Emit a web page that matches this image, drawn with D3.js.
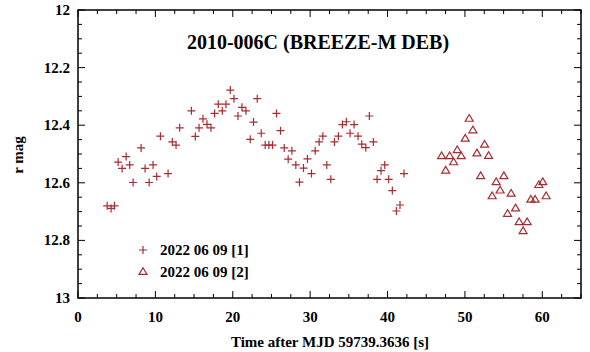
<!DOCTYPE html>
<html>
<head>
<meta charset="UTF-8"/>
<style>
  body { margin: 0; background: #fff; }
  text { font-family: "Liberation Serif", "DejaVu Serif", serif; font-weight: bold; }
</style>
</head>
<body>
<svg width="590" height="352"></svg>
<script src="https://d3js.org/d3.v7.min.js"></script>
<script>
// series 1 (crosses): time [s], r mag
let t1 = [3.77, 4.28, 4.71, 5.19, 5.70, 6.22, 6.68, 7.12, 8.15, 8.67, 9.19, 9.70, 10.17, 10.65,
          11.64, 12.19, 12.67, 13.14, 14.65, 15.16, 15.64, 16.15, 16.67, 17.19, 17.65, 18.13,
          18.65, 19.12, 19.68, 20.15, 20.67, 21.19, 21.70, 22.26, 22.68, 23.16, 23.68, 24.19,
          24.67, 25.14, 25.65, 26.17, 26.65, 27.16, 27.64, 28.15, 28.62, 29.14, 29.65, 30.17,
          30.65, 31.16, 31.64, 32.15, 32.67, 33.14, 33.65, 34.17, 34.68, 35.16, 35.68, 36.19,
          36.67, 37.19, 37.65, 38.17, 38.65, 39.16, 39.64, 40.15, 40.62, 41.14, 41.61, 42.13];
let m1 = [12.680, 12.689, 12.680, 12.528, 12.550, 12.509, 12.538, 12.599, 12.479, 12.550, 12.599,
          12.538, 12.578, 12.438, 12.568, 12.458, 12.469, 12.409, 12.350, 12.439, 12.409, 12.378,
          12.397, 12.409, 12.359, 12.327, 12.350, 12.327, 12.278, 12.308, 12.368, 12.338, 12.350,
          12.449, 12.389, 12.308, 12.428, 12.469, 12.469, 12.469, 12.359, 12.419, 12.479, 12.518,
          12.489, 12.538, 12.598, 12.549, 12.517, 12.568, 12.489, 12.458, 12.438, 12.538, 12.588,
          12.458, 12.438, 12.398, 12.388, 12.428, 12.398, 12.438, 12.466, 12.478, 12.368, 12.458,
          12.588, 12.558, 12.538, 12.588, 12.627, 12.698, 12.677, 12.568];
// series 2 (triangles)
let t2 = [46.99, 47.51, 48.03, 48.54, 49.01, 49.52, 50.04, 50.55, 51.03, 51.55, 52.03, 52.54,
          53.06, 53.52, 54.04, 54.55, 55.03, 55.51, 55.97, 56.54, 57.01, 57.52, 58.04, 58.52,
          59.07, 59.55, 60.06, 60.49];
let m2 = [12.508, 12.558, 12.508, 12.529, 12.487, 12.508, 12.447, 12.378, 12.418, 12.498, 12.577,
          12.468, 12.507, 12.647, 12.598, 12.627, 12.577, 12.708, 12.638, 12.689, 12.737, 12.768,
          12.737, 12.659, 12.659, 12.608, 12.598, 12.647];
let legendLabels = ["2022 06 09 [1]", "2022 06 09 [2]"];
let xTicks = [0, 10, 20, 30, 40, 50, 60];
let yTicks = [12, 12.2, 12.4, 12.6, 12.8, 13];

let svg = d3.select("svg");
let pLeft = 78, pRight = 581, pTop = 10, pBottom = 298;
let color = "#ab2a30";

let x = d3.scaleLinear().domain([0, 65]).range([pLeft, pRight]);
let y = d3.scaleLinear().domain([12, 13]).range([pTop, pBottom]);

// minor + major ticks, mirrored on all sides, pointing inward
let xMinor = d3.range(0, 65.01, 2.5);
let yMinor = d3.range(12, 13.001, 0.05);
let tk = svg.append("g").attr("stroke", "#000").attr("stroke-width", 1);
xMinor.forEach(function(v, i) {
    let len = i % 4 === 0 ? 7 : 4;
    tk.append("line").attr("x1", x(v)).attr("x2", x(v)).attr("y1", pBottom).attr("y2", pBottom - len);
    tk.append("line").attr("x1", x(v)).attr("x2", x(v)).attr("y1", pTop).attr("y2", pTop + len);
});
yMinor.forEach(function(v, i) {
    let len = i % 4 === 0 ? 7 : 4;
    tk.append("line").attr("x1", pLeft).attr("x2", pLeft + len).attr("y1", y(v)).attr("y2", y(v));
    tk.append("line").attr("x1", pRight).attr("x2", pRight - len).attr("y1", y(v)).attr("y2", y(v));
});

svg.append("rect").attr("x", pLeft).attr("y", pTop)
    .attr("width", pRight - pLeft).attr("height", pBottom - pTop)
    .attr("fill", "none").attr("stroke", "#000").attr("stroke-width", 1.5);

// tick labels
svg.append("g").selectAll("text").data(xTicks).enter().append("text")
    .attr("x", function(d) { return x(d); })
    .attr("y", 322)
    .attr("text-anchor", "middle")
    .attr("font-size", 15)
    .text(function(d) { return d; });
svg.append("g").selectAll("text").data(yTicks).enter().append("text")
    .attr("x", 70)
    .attr("y", function(d) { return y(d) + 5; })
    .attr("text-anchor", "end")
    .attr("font-size", 15)
    .text(function(d) { return d; });

// axis titles
svg.append("text").attr("x", 330).attr("y", 347).attr("text-anchor", "middle")
    .attr("font-size", 15).text("Time after MJD 59739.3636 [s]");
svg.append("text").attr("transform", "translate(23,155) rotate(-90)")
    .attr("text-anchor", "middle").attr("font-size", 15).text("r mag");
svg.append("text").attr("x", 318).attr("y", 49).attr("text-anchor", "middle")
    .attr("font-size", 20).text("2010-006C (BREEZE-M DEB)");

let crossPath = "M-4,0H4M0,-4V4";
let triPath = "M0,-4.3L4,2.4L-4,2.4Z";

let pts1 = d3.zip(t1, m1), pts2 = d3.zip(t2, m2);
svg.append("g").selectAll("path").data(pts1).enter().append("path")
    .attr("d", crossPath)
    .attr("transform", function(d) { return "translate(" + x(d[0]) + "," + y(d[1]) + ")"; })
    .attr("stroke", color).attr("stroke-width", 1.2).attr("fill", "none");
svg.append("g").selectAll("path").data(pts2).enter().append("path")
    .attr("d", triPath)
    .attr("transform", function(d) { return "translate(" + x(d[0]) + "," + y(d[1]) + ")"; })
    .attr("stroke", color).attr("stroke-width", 1.2).attr("fill", "none");

// legend
let lg = svg.append("g");
[crossPath, triPath].forEach(function(p, i) {
    let ly = 250 + i * 22;
    lg.append("path").attr("d", p).attr("transform", "translate(143," + ly + ")")
        .attr("stroke", color).attr("stroke-width", 1.2).attr("fill", "none");
    lg.append("text").attr("x", 160).attr("y", ly + 5).attr("font-size", 15).text(legendLabels[i]);
});
</script>
</body>
</html>
